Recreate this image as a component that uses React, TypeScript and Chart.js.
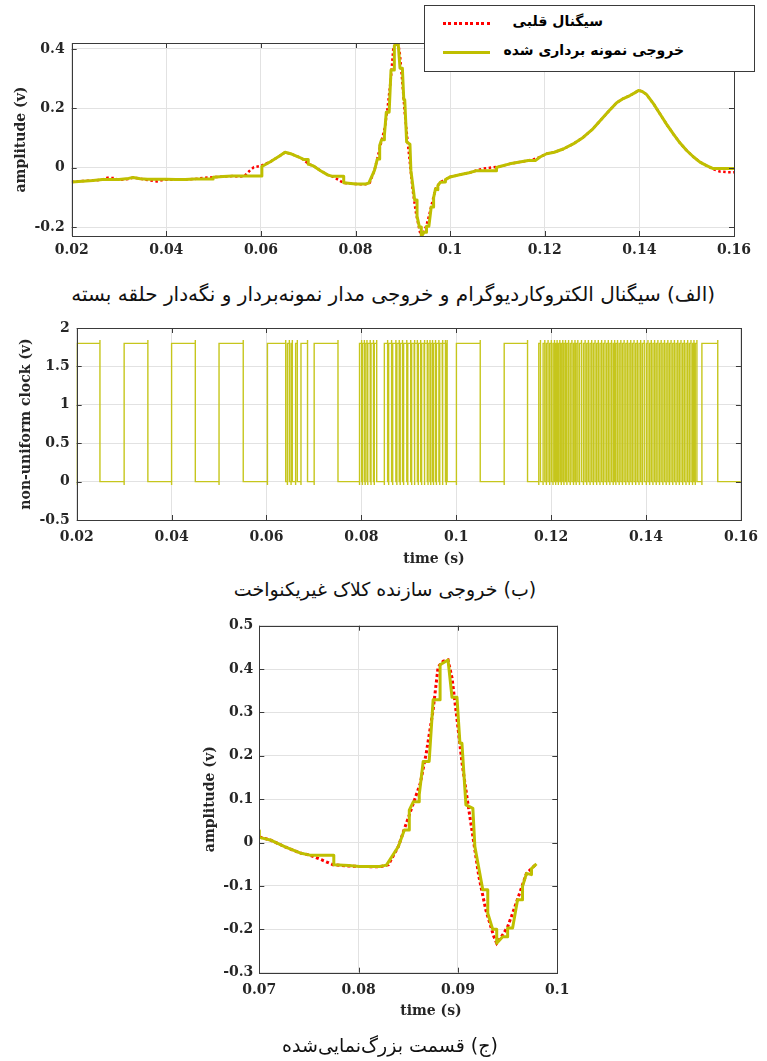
import React, { useEffect, useRef } from "react";
import { Chart, registerables } from "chart.js";
Chart.register(...registerables);

// ---------- DATA ----------
// ECG (red dotted) signal: time (s) / amplitude (v)
const ecgTime = [
  0.0200, 0.0220, 0.0245, 0.0265, 0.0275, 0.0290, 0.0300, 0.0320, 0.0330, 0.0345,
  0.0365, 0.0380, 0.0395, 0.0420, 0.0440, 0.0460, 0.0480, 0.0500, 0.0520, 0.0540,
  0.0555, 0.0565, 0.0575, 0.0585, 0.0600, 0.0620, 0.0640, 0.0651, 0.0665, 0.0680,
  0.0690, 0.0700, 0.0711, 0.0726, 0.0741, 0.0751, 0.0763, 0.0774, 0.0790, 0.0801,
  0.0821, 0.0830, 0.0840, 0.0846, 0.0855, 0.0862, 0.0868, 0.0875, 0.0880, 0.0885,
  0.0890, 0.0894, 0.0899, 0.0904, 0.0910, 0.0915, 0.0921, 0.0928, 0.0936, 0.0939,
  0.0945, 0.0950, 0.0955, 0.0962, 0.0969, 0.0979, 0.0990, 0.1000, 0.1020, 0.1040,
  0.1056, 0.1070, 0.1090, 0.1105, 0.1126, 0.1150, 0.1176, 0.1190, 0.1204, 0.1220,
  0.1239, 0.1260, 0.1281, 0.1300, 0.1317, 0.1335, 0.1352, 0.1366, 0.1380, 0.1390,
  0.1398, 0.1406, 0.1415, 0.1430, 0.1444, 0.1458, 0.1472, 0.1486, 0.1500, 0.1514,
  0.1528, 0.1542, 0.1556, 0.1570, 0.1585, 0.1600,
];
const ecgAmp = [
  -0.048, -0.045, -0.043, -0.040, -0.034, -0.035, -0.041, -0.038, -0.033, -0.037,
  -0.043, -0.046, -0.041, -0.040, -0.040, -0.038, -0.034, -0.032, -0.030, -0.028,
  -0.030, -0.028, -0.012, 0.002, 0.006, 0.020, 0.040, 0.052, 0.046, 0.036,
  0.027, 0.013, 0.006, -0.010, -0.024, -0.029, -0.040, -0.051, -0.054, -0.055,
  -0.056, -0.051, -0.009, 0.031, 0.090, 0.136, 0.205, 0.306, 0.405, 0.418,
  0.421, 0.380, 0.285, 0.185, 0.090, 0.014, -0.078, -0.155, -0.216, -0.232,
  -0.213, -0.194, -0.163, -0.117, -0.071, -0.049, -0.040, -0.031, -0.024, -0.017,
  -0.009, -0.003, 0.001, 0.004, 0.013, 0.020, 0.028, 0.036, 0.047, 0.052,
  0.063, 0.080, 0.102, 0.128, 0.158, 0.190, 0.219, 0.233, 0.243, 0.252,
  0.260, 0.257, 0.247, 0.215, 0.180, 0.145, 0.113, 0.083, 0.058, 0.037,
  0.019, 0.007, -0.005, -0.013, -0.015, -0.015,
];

// Sample-and-hold output (yellow): time (s) / amplitude (v)
const outTime = [
  0.0200, 0.0245, 0.0265, 0.0300, 0.0320, 0.0330, 0.0345, 0.0360, 0.0400, 0.0420,
  0.0440, 0.0460, 0.0499, 0.0499, 0.0520, 0.0540, 0.0602, 0.0602, 0.0620, 0.0640,
  0.0651, 0.0665, 0.0680, 0.0690, 0.0700, 0.0700, 0.0711, 0.0726, 0.0741, 0.0751,
  0.0775, 0.0775, 0.0790, 0.0801, 0.0821, 0.0828, 0.0840, 0.0846, 0.0851, 0.0851,
  0.0855, 0.0861, 0.0861, 0.0865, 0.0871, 0.0875, 0.0882, 0.0882, 0.0890, 0.0894,
  0.0899, 0.0902, 0.0904, 0.0908, 0.0915, 0.0917, 0.0925, 0.0930, 0.0930, 0.0935,
  0.0939, 0.0939, 0.0945, 0.0950, 0.0950, 0.0955, 0.0960, 0.0965, 0.0965, 0.0969,
  0.0974, 0.0974, 0.0979, 0.0990, 0.0990, 0.1000, 0.1020, 0.1040, 0.1056, 0.1098,
  0.1098, 0.1105, 0.1126, 0.1150, 0.1165, 0.1180, 0.1190, 0.1204, 0.1220, 0.1239,
  0.1260, 0.1281, 0.1300, 0.1317, 0.1335, 0.1352, 0.1366, 0.1380, 0.1390, 0.1398,
  0.1406, 0.1415, 0.1430, 0.1444, 0.1458, 0.1472, 0.1486, 0.1500, 0.1514, 0.1528,
  0.1542, 0.1556, 0.1600,
];
const outAmp = [
  -0.048, -0.043, -0.040, -0.040, -0.036, -0.033, -0.037, -0.039, -0.039, -0.040,
  -0.040, -0.038, -0.038, -0.032, -0.030, -0.028, -0.028, 0.004, 0.020, 0.040,
  0.052, 0.046, 0.036, 0.028, 0.028, 0.012, 0.006, -0.010, -0.024, -0.029,
  -0.029, -0.051, -0.053, -0.055, -0.055, -0.052, -0.009, 0.029, 0.029, 0.075,
  0.094, 0.094, 0.110, 0.187, 0.187, 0.329, 0.329, 0.410, 0.421, 0.335,
  0.335, 0.229, 0.229, 0.087, 0.079, -0.009, -0.109, -0.109, -0.163, -0.200,
  -0.200, -0.232, -0.217, -0.217, -0.197, -0.197, -0.132, -0.132, -0.101, -0.071,
  -0.074, -0.060, -0.049, -0.048, -0.040, -0.031, -0.024, -0.017, -0.010, -0.010,
  0.001, 0.004, 0.013, 0.020, 0.024, 0.024, 0.036, 0.047, 0.052, 0.063,
  0.080, 0.102, 0.128, 0.158, 0.190, 0.219, 0.233, 0.243, 0.252, 0.260,
  0.257, 0.247, 0.215, 0.180, 0.145, 0.113, 0.083, 0.058, 0.037, 0.019,
  0.007, -0.003, -0.003,
];

// Non-uniform clock: times (s) at which the clock toggles (starts low, first toggle rises)
const clockToggles = [
  0.0200, 0.0249, 0.0300, 0.0350, 0.0400, 0.0450, 0.0500, 0.0551, 0.0602, 0.06405,
  0.06441, 0.06482, 0.06518, 0.06545, 0.06614, 0.06650, 0.06727, 0.06865, 0.07005, 0.07507,
  0.07961, 0.08005, 0.08022, 0.08063, 0.08080, 0.08118, 0.08135, 0.08186, 0.08203, 0.08255,
  0.08272, 0.08323, 0.08484, 0.08553, 0.08575, 0.08637, 0.08660, 0.08727, 0.08748, 0.08798,
  0.08818, 0.08867, 0.08890, 0.08957, 0.08978, 0.09040, 0.09060, 0.09111, 0.09130, 0.09180,
  0.09200, 0.09249, 0.09270, 0.09320, 0.09340, 0.09389, 0.09405, 0.09446, 0.09462, 0.09500,
  0.09520, 0.09563, 0.09582, 0.09634, 0.09652, 0.09703, 0.09720, 0.09772, 0.09790, 0.09808,
  0.10003, 0.10505, 0.11010, 0.11502,
  0.11739, 0.11775, 0.11830, 0.11866, 0.11900, 0.11935, 0.11969, 0.12004, 0.12039, 0.12070,
  0.12095, 0.12125, 0.12151, 0.12183, 0.12213, 0.12245, 0.12269, 0.12302, 0.12332, 0.12367,
  0.12402, 0.12437, 0.12471, 0.12502, 0.12527, 0.12562, 0.12597, 0.12640, 0.12681, 0.12716,
  0.12750, 0.12785, 0.12820, 0.12855, 0.12890, 0.12925, 0.12959, 0.12994, 0.13029, 0.13064,
  0.13099, 0.13134, 0.13169, 0.13204, 0.13238, 0.13273, 0.13308, 0.13338, 0.13364, 0.13399,
  0.13434, 0.13469, 0.13503, 0.13538, 0.13573, 0.13608, 0.13643, 0.13678, 0.13712, 0.13747,
  0.13782, 0.13817, 0.13852, 0.13887, 0.13922, 0.13962, 0.14005, 0.14040, 0.14075, 0.14110,
  0.14145, 0.14180, 0.14214, 0.14249, 0.14284, 0.14319, 0.14354, 0.14389, 0.14424, 0.14459,
  0.14493, 0.14528, 0.14563, 0.14598, 0.14633, 0.14668, 0.14702, 0.14737, 0.14772, 0.14807,
  0.14842, 0.14877, 0.14912, 0.14947, 0.14981, 0.15010, 0.15037, 0.15072, 0.15177, 0.15511,
];
const clockLevels = [0, 1.8];      // low / high level (v)
const clockOvershoot = 0.045;      // edge glitch height (v)
const clockEnd = 0.16;

// Axis ticks
const timeTicksFull = [0.02, 0.04, 0.06, 0.08, 0.1, 0.12, 0.14, 0.16];
const ampTicksFull = [-0.2, 0, 0.2, 0.4];
const clockTicks = [-0.5, 0, 0.5, 1, 1.5, 2];
const timeTicksZoom = [0.07, 0.08, 0.09, 0.1];
const ampTicksZoom = [-0.3, -0.2, -0.1, 0, 0.1, 0.2, 0.3, 0.4, 0.5];
const zoomRange = [0.07, 0.098];

// Texts
const legendEcg = "سیگنال قلبی";
const legendOut = "خروجی نمونه برداری شده";
const captionA = "(الف) سیگنال الکتروکاردیوگرام و خروجی مدار نمونه‌بردار و نگه‌دار حلقه بسته";
const captionB = "(ب) خروجی سازنده کلاک غیریکنواخت";
const captionC = "(ج) قسمت بزرگ‌نمایی‌شده";

// ---------- STYLE ----------
const TEXT = "#262626";
const GRID = "#e2e2e2";
const YELLOW = "#bfbf00";
const CLOCK_YELLOW = "#c6c61c";
const RED = "#ff0000";
const AXIS_FONT = { family: "'DejaVu Serif', serif", size: 14, weight: "bold" as const };
const FA_FONT = "'DejaVu Sans', sans-serif";

const fmt = (v: number) => String(Number(Number(v).toFixed(4)));

function pairs(ts: number[], vs: number[], lo = -Infinity, hi = Infinity) {
  const out: { x: number; y: number }[] = [];
  for (let i = 0; i < ts.length; i++) {
    if (ts[i] >= lo - 1e-9 && ts[i] <= hi + 1e-9) out.push({ x: ts[i], y: vs[i] });
  }
  return out;
}

function clockPoints() {
  const [low, high] = clockLevels;
  const pts: { x: number; y: number }[] = [];
  let level = low;
  for (const t of clockToggles) {
    const next = level === low ? high : low;
    pts.push({ x: t, y: level });
    pts.push({ x: t, y: level === high ? level + clockOvershoot : level - clockOvershoot });
    pts.push({ x: t, y: next });
    level = next;
  }
  pts.push({ x: clockEnd, y: level });
  return pts;
}

const framePlugin = {
  id: "frame",
  afterDraw(chart: any) {
    const { ctx, chartArea } = chart;
    const { left, right, top, bottom } = chartArea;
    const xs = chart.scales.x;
    const ys = chart.scales.y;
    ctx.save();
    ctx.strokeStyle = "#3a3a3a";
    ctx.lineWidth = 1;
    ctx.strokeRect(Math.round(left) + 0.5, Math.round(top) + 0.5, Math.round(right - left), Math.round(bottom - top));
    const L = 5;
    ctx.beginPath();
    xs.ticks.forEach((t: any) => {
      const p = Math.round(xs.getPixelForValue(t.value)) + 0.5;
      ctx.moveTo(p, bottom);
      ctx.lineTo(p, bottom - L);
      ctx.moveTo(p, top);
      ctx.lineTo(p, top + L);
    });
    ys.ticks.forEach((t: any) => {
      const p = Math.round(ys.getPixelForValue(t.value)) + 0.5;
      ctx.moveTo(left, p);
      ctx.lineTo(left + L, p);
      ctx.moveTo(right, p);
      ctx.lineTo(right - L, p);
    });
    ctx.stroke();
    ctx.restore();
  },
};

type AxisCfg = {
  xMin: number; xMax: number; xTicks: number[]; xHeight: number; xPad: number;
  yMin: number; yMax: number; yTicks: number[]; yWidth: number; yPad: number; yTitle: string;
};

function scales(c: AxisCfg) {
  return {
    x: {
      type: "linear",
      min: c.xMin,
      max: c.xMax,
      afterBuildTicks: (s: any) => { s.ticks = c.xTicks.map((v) => ({ value: v })); },
      afterFit: (s: any) => { s.height = c.xHeight; },
      grid: { color: GRID, drawTicks: false, lineWidth: 1 },
      border: { display: false },
      ticks: {
        color: TEXT, font: AXIS_FONT, padding: c.xPad, maxRotation: 0, minRotation: 0, autoSkip: false,
        callback: (v: any) => fmt(v),
      },
    },
    y: {
      type: "linear",
      min: c.yMin,
      max: c.yMax,
      afterBuildTicks: (s: any) => { s.ticks = c.yTicks.map((v) => ({ value: v })); },
      afterFit: (s: any) => { s.width = c.yWidth; },
      grid: { color: GRID, drawTicks: false, lineWidth: 1 },
      border: { display: false },
      title: { display: true, text: c.yTitle, color: TEXT, font: AXIS_FONT, padding: { top: 4, bottom: 4 } },
      ticks: { color: TEXT, font: AXIS_FONT, padding: c.yPad, autoSkip: false, callback: (v: any) => fmt(v) },
    },
  };
}

function baseOptions(padding: any, sc: any) {
  return {
    responsive: false,
    maintainAspectRatio: false,
    animation: false,
    events: [],
    layout: { padding },
    plugins: { legend: { display: false }, tooltip: { enabled: false }, title: { display: false } },
    scales: sc,
    elements: { point: { radius: 0 }, line: { tension: 0 } },
  };
}

function ChartCanvas({ top, height, makeConfig }: { top: number; height: number; makeConfig: () => any }) {
  const ref = useRef<HTMLCanvasElement | null>(null);
  useEffect(() => {
    if (!ref.current) return;
    const chart = new Chart(ref.current, makeConfig());
    return () => chart.destroy();
  }, []);
  return (
    <canvas
      ref={ref}
      width={767}
      height={height}
      style={{ position: "absolute", left: 0, top, width: 767, height, display: "block" }}
    />
  );
}

function signalDatasets(lo: number, hi: number, redWidth: number, redDash: number[], yellowWidth: number) {
  return [
    {
      label: legendEcg,
      data: pairs(ecgTime, ecgAmp, lo, hi),
      borderColor: RED,
      borderWidth: redWidth,
      borderDash: redDash,
      pointRadius: 0,
      fill: false,
      order: 1,
    },
    {
      label: legendOut,
      data: pairs(outTime, outAmp, lo, hi),
      borderColor: YELLOW,
      borderWidth: yellowWidth,
      borderJoinStyle: "round",
      pointRadius: 0,
      fill: false,
      order: 0,
    },
  ];
}

const topConfig = () => ({
  type: "line",
  data: { datasets: signalDatasets(-Infinity, Infinity, 2.5, [2.5, 2.5], 3) },
  options: baseOptions(
    { left: 9, top: 43, right: 33, bottom: 0 },
    scales({
      xMin: 0.02, xMax: 0.16, xTicks: timeTicksFull, xHeight: 44, xPad: 6,
      yMin: -0.23, yMax: 0.42, yTicks: ampTicksFull, yWidth: 62.7, yPad: 7, yTitle: "amplitude (v)",
    })
  ),
  plugins: [framePlugin],
});

const clockConfig = () => ({
  type: "line",
  data: {
    datasets: [
      {
        label: "clock",
        data: clockPoints(),
        borderColor: CLOCK_YELLOW,
        borderWidth: 1.4,
        pointRadius: 0,
        fill: false,
      },
    ],
  },
  options: baseOptions(
    { left: 13.6, top: 18, right: 21, bottom: 0 },
    scales({
      xMin: 0.02, xMax: 0.16, xTicks: timeTicksFull, xHeight: 50, xPad: 9,
      yMin: -0.5, yMax: 2, yTicks: clockTicks, yWidth: 63.1, yPad: 7, yTitle: "non-uniform clock (v)",
    })
  ),
  plugins: [framePlugin],
});

const zoomConfig = () => ({
  type: "line",
  data: { datasets: signalDatasets(zoomRange[0], zoomRange[1], 3, [3, 2.5], 3) },
  options: baseOptions(
    { left: 197.6, top: 25.7, right: 209.7, bottom: 0 },
    scales({
      xMin: 0.07, xMax: 0.1, xTicks: timeTicksZoom, xHeight: 88.3, xPad: 9,
      yMin: -0.3, yMax: 0.5, yTicks: ampTicksZoom, yWidth: 61.7, yPad: 6, yTitle: "amplitude (v)",
    })
  ),
  plugins: [framePlugin],
});

const captionStyle = (top: number, center: number, size = 19): React.CSSProperties => ({
  position: "absolute",
  top,
  left: center - 380,
  width: 760,
  textAlign: "center",
  direction: "rtl",
  fontFamily: FA_FONT,
  fontSize: size,
  lineHeight: "26px",
  color: "#111",
  whiteSpace: "nowrap",
});

const axisTitleStyle = (top: number, center: number): React.CSSProperties => ({
  position: "absolute",
  top,
  left: center - 100,
  width: 200,
  textAlign: "center",
  fontFamily: AXIS_FONT.family,
  fontWeight: "bold",
  fontSize: 14,
  lineHeight: "16px",
  color: TEXT,
});

const legendTextStyle = (right: number, top: number): React.CSSProperties => ({
  position: "absolute",
  right: 767 - right,
  top,
  direction: "rtl",
  fontFamily: FA_FONT,
  fontWeight: "bold",
  fontSize: 14,
  lineHeight: "22px",
  color: "#000",
  whiteSpace: "nowrap",
});

export default function App() {
  return (
    <div style={{ position: "absolute", left: 0, top: 0, width: 767, height: 1061, background: "#fff", overflow: "hidden" }}>
      <ChartCanvas top={0} height={280} makeConfig={topConfig} />
      {/* legend */}
      <div
        style={{
          position: "absolute", left: 424, top: 5, width: 329, height: 65,
          background: "#fff", border: "1px solid #3a3a3a",
        }}
      />
      <div
        style={{
          position: "absolute", left: 443, top: 22, width: 47, height: 3,
          background: `repeating-linear-gradient(to right, ${RED} 0px, ${RED} 3px, transparent 3px, transparent 5.5px)`,
        }}
      />
      <div style={{ position: "absolute", left: 443, top: 51, width: 47, height: 3, background: YELLOW }} />
      <div style={legendTextStyle(603, 10)}>{legendEcg}</div>
      <div style={legendTextStyle(684, 39)}>{legendOut}</div>
      <div style={{ ...captionStyle(281, 0, 20), left: "auto", right: 767 - 715, width: "auto", textAlign: "right" }}>{captionA}</div>

      <ChartCanvas top={310} height={260} makeConfig={clockConfig} />
      <div style={axisTitleStyle(550, 434)}>time (s)</div>
      <div style={captionStyle(576, 385)}>{captionB}</div>

      <ChartCanvas top={600} height={461} makeConfig={zoomConfig} />
      <div style={axisTitleStyle(1002, 431)}>time (s)</div>
      <div style={captionStyle(1032, 390)}>{captionC}</div>
    </div>
  );
}
